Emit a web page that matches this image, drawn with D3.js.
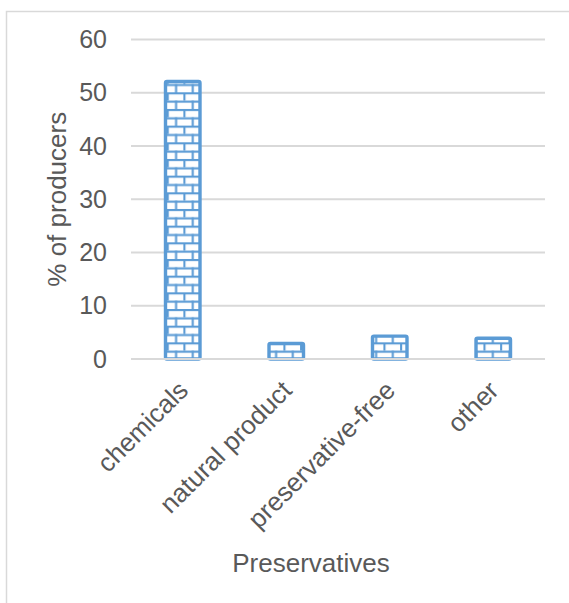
<!DOCTYPE html>
<html>
<head>
<meta charset="utf-8">
<script src="https://cdn.jsdelivr.net/npm/d3@7"></script>
<style>
  html, body { margin: 0; padding: 0; background: #fff; }
  svg { display: block; font-family: "Liberation Sans", Arial, sans-serif; }
</style>
</head>
<body>
<svg id="chart" width="569" height="603"></svg>
<script>
// Share of producers by preservative type
const categories = ["chemicals", "natural product", "preservative-free", "other"];
const values = [52.1, 2.9, 4.3, 3.9];
const yTicks = [0, 10, 20, 30, 40, 50, 60];
const yTitle = "% of producers";
const xTitle = "Preservatives";

const svg = d3.select("#chart");
const textColor = "#595959";
const gridColor = "#D9D9D9";
const barColor = "#5B9BD5";

// chart frame
svg.append("rect")
  .attr("x", 6.5).attr("y", 11.5)
  .attr("width", 620).attr("height", 640)
  .attr("fill", "#fff")
  .attr("stroke", gridColor).attr("stroke-width", 1.5);

// brick fill
const s = 16.67, lw = 2.1;
const pat = svg.append("defs").append("pattern")
  .attr("id", "brick")
  .attr("patternUnits", "userSpaceOnUse")
  .attr("x", 0).attr("y", 359 - 2 * s)
  .attr("width", s).attr("height", s);
pat.append("rect").attr("width", s).attr("height", s).attr("fill", "#fff");
pat.append("rect").attr("x", 0).attr("y", 0).attr("width", s).attr("height", lw).attr("fill", barColor);
pat.append("rect").attr("x", 0).attr("y", s / 2).attr("width", s).attr("height", lw).attr("fill", barColor);
pat.append("rect").attr("x", 0).attr("y", 0).attr("width", lw).attr("height", s / 2).attr("fill", barColor);
pat.append("rect").attr("x", s / 2).attr("y", s / 2).attr("width", lw).attr("height", s / 2).attr("fill", barColor);

const x = d3.scaleBand()
  .domain(categories)
  .range([131, 545])
  .paddingInner(2 / 3)
  .paddingOuter(1 / 3);

const y = d3.scaleLinear().domain([0, 60]).range([359, 39.5]);

// gridlines
svg.append("g")
  .selectAll("line")
  .data(yTicks.filter(d => d > 0))
  .join("line")
  .attr("x1", 131).attr("x2", 545)
  .attr("y1", d => y(d)).attr("y2", d => y(d))
  .attr("stroke", gridColor).attr("stroke-width", 2);

// y tick labels
const yAxis = svg.append("g")
  .attr("transform", "translate(131,0)")
  .call(d3.axisLeft(y).tickValues(yTicks).tickSize(0).tickPadding(24).tickFormat(d3.format("d")));
yAxis.select(".domain").remove();
yAxis.selectAll("text")
  .attr("fill", textColor)
  .style("font-size", "25px")
  .style("font-family", "'Liberation Sans', Arial, sans-serif");

// bars
svg.append("g")
  .selectAll("rect")
  .data(categories)
  .join("rect")
  .attr("x", d => x(d))
  .attr("width", x.bandwidth())
  .attr("y", (d, i) => y(values[i]))
  .attr("height", (d, i) => y(0) - y(values[i]))
  .attr("fill", "url(#brick)")
  .attr("stroke", barColor)
  .attr("stroke-width", 3.4)
  .attr("stroke-linejoin", "round")
  .attr("rx", 1.5);

// category axis
const xAxis = svg.append("g")
  .attr("transform", "translate(0,359)")
  .call(d3.axisBottom(x).tickSize(0).tickSizeOuter(0));
xAxis.select(".domain").attr("stroke", gridColor).attr("stroke-width", 2)
  .attr("d", "M131,0H545");
xAxis.selectAll(".tick text")
  .attr("fill", textColor)
  .style("font-size", "26px")
  .style("font-family", "'Liberation Sans', Arial, sans-serif")
  .attr("text-anchor", "end")
  .attr("dy", null)
  .attr("y", 0)
  .attr("transform", "translate(7,33) rotate(-45)");

// axis titles
svg.append("text")
  .attr("transform", `translate(66,${(y(0) + y(60)) / 2}) rotate(-90)`)
  .attr("text-anchor", "middle")
  .attr("fill", textColor)
  .style("font-size", "26px")
  .text(yTitle);

svg.append("text")
  .attr("x", (131 + 545) / 2 - 27)
  .attr("y", 572)
  .attr("text-anchor", "middle")
  .attr("fill", textColor)
  .style("font-size", "26px")
  .text(xTitle);
</script>
</body>
</html>
